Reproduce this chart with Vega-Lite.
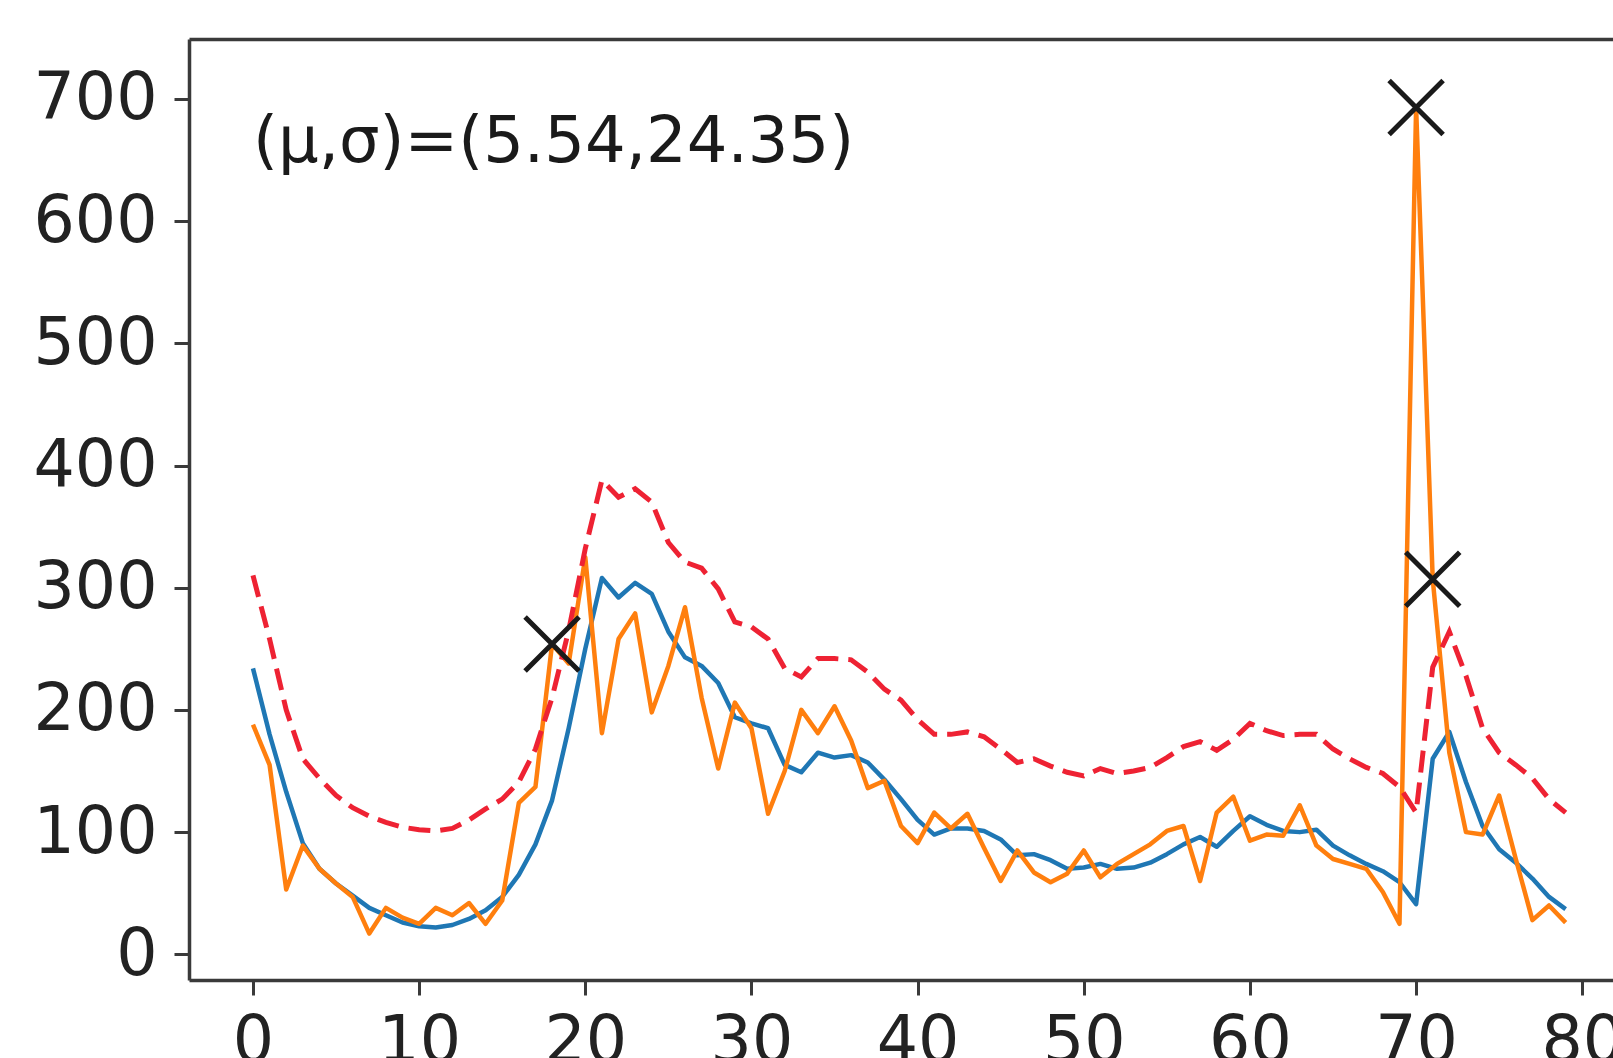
{
  "$schema": "https://vega.github.io/schema/vega-lite/v6.json",
  "width": 1424,
  "height": 941,
  "autosize": {"type": "none"},
  "padding": {"left": 189, "top": 39, "right": 0, "bottom": 78},
  "background": "white",
  "config": {
    "view": {"stroke": null},
    "font": "DejaVu Sans",
    "axis": {
      "grid": false,
      "title": null,
      "domainColor": "#3a3a3a",
      "domainWidth": 3.5,
      "tickColor": "#3a3a3a",
      "tickWidth": 3,
      "tickSize": 15,
      "labelFont": "DejaVu Sans",
      "labelFontSize": 65,
      "labelColor": "#222222",
      "labelFlush": false,
      "labelOverlap": false,
      "labelBound": false
    }
  },
  "datasets": {
    "series": [
      {"x": 0, "mean": 234, "observed": 188, "upper": 310},
      {"x": 1, "mean": 180, "observed": 155, "upper": 258},
      {"x": 2, "mean": 133, "observed": 53, "upper": 200},
      {"x": 3, "mean": 91, "observed": 89, "upper": 160},
      {"x": 4, "mean": 70, "observed": 70, "upper": 144},
      {"x": 5, "mean": 58, "observed": 58, "upper": 130},
      {"x": 6, "mean": 48, "observed": 47, "upper": 120},
      {"x": 7, "mean": 38, "observed": 17, "upper": 113},
      {"x": 8, "mean": 32, "observed": 38, "upper": 108},
      {"x": 9, "mean": 26, "observed": 30, "upper": 104},
      {"x": 10, "mean": 23, "observed": 25, "upper": 102},
      {"x": 11, "mean": 22, "observed": 38, "upper": 101},
      {"x": 12, "mean": 24, "observed": 32, "upper": 103},
      {"x": 13, "mean": 29, "observed": 42, "upper": 110},
      {"x": 14, "mean": 36, "observed": 25, "upper": 119},
      {"x": 15, "mean": 47, "observed": 44, "upper": 127},
      {"x": 16, "mean": 65, "observed": 124, "upper": 141},
      {"x": 17, "mean": 90, "observed": 137, "upper": 168},
      {"x": 18, "mean": 126, "observed": 254, "upper": 210},
      {"x": 19, "mean": 185, "observed": 238, "upper": 265},
      {"x": 20, "mean": 250, "observed": 325, "upper": 332},
      {"x": 21, "mean": 308, "observed": 181, "upper": 388},
      {"x": 22, "mean": 292, "observed": 258, "upper": 374},
      {"x": 23, "mean": 304, "observed": 279, "upper": 381},
      {"x": 24, "mean": 295, "observed": 198, "upper": 370},
      {"x": 25, "mean": 264, "observed": 236, "upper": 337},
      {"x": 26, "mean": 243, "observed": 284, "upper": 321},
      {"x": 27, "mean": 236, "observed": 210, "upper": 316},
      {"x": 28, "mean": 222, "observed": 152, "upper": 299},
      {"x": 29, "mean": 194, "observed": 206, "upper": 272},
      {"x": 30, "mean": 189, "observed": 185, "upper": 268},
      {"x": 31, "mean": 185, "observed": 115, "upper": 258},
      {"x": 32, "mean": 155, "observed": 150, "upper": 234},
      {"x": 33, "mean": 149, "observed": 200, "upper": 227},
      {"x": 34, "mean": 165, "observed": 181, "upper": 242},
      {"x": 35, "mean": 161, "observed": 203, "upper": 242},
      {"x": 36, "mean": 163, "observed": 175, "upper": 241},
      {"x": 37, "mean": 157, "observed": 136, "upper": 231},
      {"x": 38, "mean": 143, "observed": 142, "upper": 217},
      {"x": 39, "mean": 127, "observed": 105, "upper": 208},
      {"x": 40, "mean": 110, "observed": 91, "upper": 192},
      {"x": 41, "mean": 98, "observed": 116, "upper": 180},
      {"x": 42, "mean": 103, "observed": 103, "upper": 180},
      {"x": 43, "mean": 103, "observed": 115, "upper": 182},
      {"x": 44, "mean": 101, "observed": 87, "upper": 178},
      {"x": 45, "mean": 94, "observed": 60, "upper": 168},
      {"x": 46, "mean": 81, "observed": 85, "upper": 157},
      {"x": 47, "mean": 82, "observed": 67, "upper": 160},
      {"x": 48, "mean": 77, "observed": 59, "upper": 154},
      {"x": 49, "mean": 70, "observed": 66, "upper": 149},
      {"x": 50, "mean": 71, "observed": 85, "upper": 146},
      {"x": 51, "mean": 74, "observed": 63, "upper": 152},
      {"x": 52, "mean": 70, "observed": 74, "upper": 148},
      {"x": 53, "mean": 71, "observed": 82, "upper": 150},
      {"x": 54, "mean": 75, "observed": 90, "upper": 153},
      {"x": 55, "mean": 82, "observed": 101, "upper": 161},
      {"x": 56, "mean": 90, "observed": 105, "upper": 170},
      {"x": 57, "mean": 96, "observed": 60, "upper": 174},
      {"x": 58, "mean": 88, "observed": 116, "upper": 167},
      {"x": 59, "mean": 101, "observed": 129, "upper": 176},
      {"x": 60, "mean": 113, "observed": 93, "upper": 189},
      {"x": 61, "mean": 106, "observed": 98, "upper": 183},
      {"x": 62, "mean": 101, "observed": 97, "upper": 179},
      {"x": 63, "mean": 100, "observed": 122, "upper": 180},
      {"x": 64, "mean": 102, "observed": 89, "upper": 180},
      {"x": 65, "mean": 89, "observed": 78, "upper": 168},
      {"x": 66, "mean": 81, "observed": 74, "upper": 160},
      {"x": 67, "mean": 74, "observed": 70, "upper": 153},
      {"x": 68, "mean": 68, "observed": 51, "upper": 148},
      {"x": 69, "mean": 59, "observed": 25, "upper": 137},
      {"x": 70, "mean": 41, "observed": 693, "upper": 116},
      {"x": 71, "mean": 160, "observed": 307, "upper": 235},
      {"x": 72, "mean": 182, "observed": 165, "upper": 264},
      {"x": 73, "mean": 141, "observed": 100, "upper": 228},
      {"x": 74, "mean": 105, "observed": 98, "upper": 185},
      {"x": 75, "mean": 86, "observed": 130, "upper": 165},
      {"x": 76, "mean": 75, "observed": 78, "upper": 155},
      {"x": 77, "mean": 62, "observed": 28, "upper": 144},
      {"x": 78, "mean": 47, "observed": 40, "upper": 127},
      {"x": 79, "mean": 37, "observed": 26, "upper": 116}
    ],
    "anomalies": [
      {"x": 18, "value": 254},
      {"x": 70, "value": 693},
      {"x": 71, "value": 307}
    ],
    "note": [
      {"x": 0, "y": 648, "label": "(μ,σ)=(5.54,24.35)"}
    ]
  },
  "layer": [
    {
      "data": {"name": "series"},
      "mark": {"type": "line", "color": "#1f77b4", "strokeWidth": 4.5, "strokeJoin": "round"},
      "encoding": {
        "x": {"field": "x", "type": "quantitative",
              "scale": {"domain": [-3.85, 81.85], "nice": false, "zero": false},
              "axis": {"orient": "bottom", "values": [0, 10, 20, 30, 40, 50, 60, 70, 80], "format": "d", "labelPadding": 15}},
        "y": {"field": "mean", "type": "quantitative",
              "scale": {"domain": [-21, 749], "nice": false, "zero": false},
              "axis": {"orient": "left", "values": [0, 100, 200, 300, 400, 500, 600, 700], "format": "d", "labelPadding": 17}}
      }
    },
    {
      "data": {"name": "series"},
      "mark": {"type": "line", "color": "#ff7f0e", "strokeWidth": 4.5, "strokeJoin": "round"},
      "encoding": {
        "x": {"field": "x", "type": "quantitative", "axis": null},
        "y": {"field": "observed", "type": "quantitative", "axis": null}
      }
    },
    {
      "data": {"name": "series"},
      "mark": {"type": "line", "color": "#ee2233", "strokeWidth": 5, "strokeDash": [22, 10]},
      "encoding": {
        "x": {"field": "x", "type": "quantitative", "axis": null},
        "y": {"field": "upper", "type": "quantitative", "axis": null}
      }
    },
    {
      "data": {"name": "anomalies"},
      "mark": {"type": "point", "shape": "M-1,-1L1,1M-1,1L1,-1", "filled": false, "size": 2916, "stroke": "#1a1a1a", "strokeWidth": 5, "opacity": 1},
      "encoding": {
        "x": {"field": "x", "type": "quantitative", "axis": null},
        "y": {"field": "value", "type": "quantitative", "axis": null}
      }
    },
    {
      "data": {"name": "note"},
      "mark": {"type": "text", "align": "left", "baseline": "alphabetic", "fontSize": 64, "font": "DejaVu Sans", "color": "#1a1a1a"},
      "encoding": {
        "x": {"field": "x", "type": "quantitative",
              "axis": {"orient": "top", "labels": false, "ticks": false, "domain": true}},
        "y": {"field": "y", "type": "quantitative", "axis": null},
        "text": {"field": "label"}
      }
    }
  ],
  "resolve": {"axis": {"x": "independent", "y": "independent"}}
}
